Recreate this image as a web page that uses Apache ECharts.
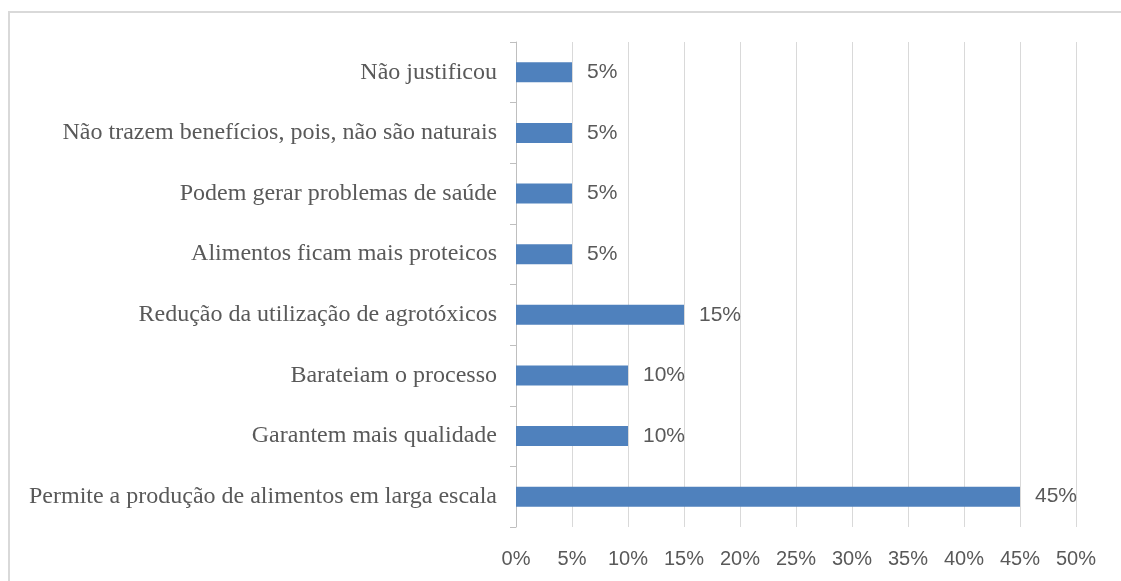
<!DOCTYPE html>
<html>
<head>
<meta charset="utf-8">
<script src="https://cdn.jsdelivr.net/npm/echarts@6/dist/echarts.min.js"></script>
<style>
  html, body { margin: 0; padding: 0; background: #fff; }
  #chart { width: 1121px; height: 581px; }
</style>
</head>
<body>
<div id="chart"></div>
<script>
// categories listed bottom -> top
var categories = [
    'Permite a produção de alimentos em larga escala',
    'Garantem mais qualidade',
    'Barateiam o processo',
    'Redução da utilização de agrotóxicos',
    'Alimentos ficam mais proteicos',
    'Podem gerar problemas de saúde',
    'Não trazem benefícios, pois, não são naturais',
    'Não justificou'
];
var values = [45, 10, 10, 15, 5, 5, 5, 5];
var axisMin = 0, axisMax = 50, axisStep = 5;

(function() {
    var myChart = echarts.init(document.getElementById('chart'));
    var option = {
        animation: false,
        graphic: [{
            type: 'rect',
            shape: { x: 9, y: 12, width: 1130, height: 600 },
            style: { fill: 'none', stroke: '#d9d9d9', lineWidth: 2 },
            silent: true
        }],
        grid: {
            left: 516,
            right: 45,
            top: 42,
            bottom: 54
        },
        xAxis: {
            type: 'value',
            min: axisMin,
            max: axisMax,
            interval: axisStep,
            axisLine: { show: false },
            axisTick: { show: false },
            axisLabel: {
                color: '#595959',
                fontFamily: 'Liberation Sans',
                fontSize: 20,
                margin: 22,
                formatter: '{value}%'
            },
            splitLine: {
                lineStyle: { color: '#d9d9d9', width: 1 }
            }
        },
        yAxis: {
            type: 'category',
            data: categories,
            axisLine: {
                show: true,
                lineStyle: { color: '#bfbfbf' }
            },
            axisTick: {
                show: true,
                length: 6,
                lineStyle: { color: '#bfbfbf' }
            },
            axisLabel: {
                color: '#595959',
                fontFamily: 'Liberation Serif',
                fontSize: 24,
                margin: 19
            }
        },
        series: [{
            type: 'bar',
            data: values,
            barWidth: 20,
            itemStyle: {
                color: '#4f81bd'
            },
            label: {
                show: true,
                position: 'right',
                distance: 15,
                color: '#595959',
                fontFamily: 'Liberation Sans',
                fontSize: 21,
                formatter: '{c}%'
            }
        }]
    };
    myChart.setOption(option);
    window.addEventListener('resize', function() {
        myChart.resize();
    });
})();
</script>
</body>
</html>
